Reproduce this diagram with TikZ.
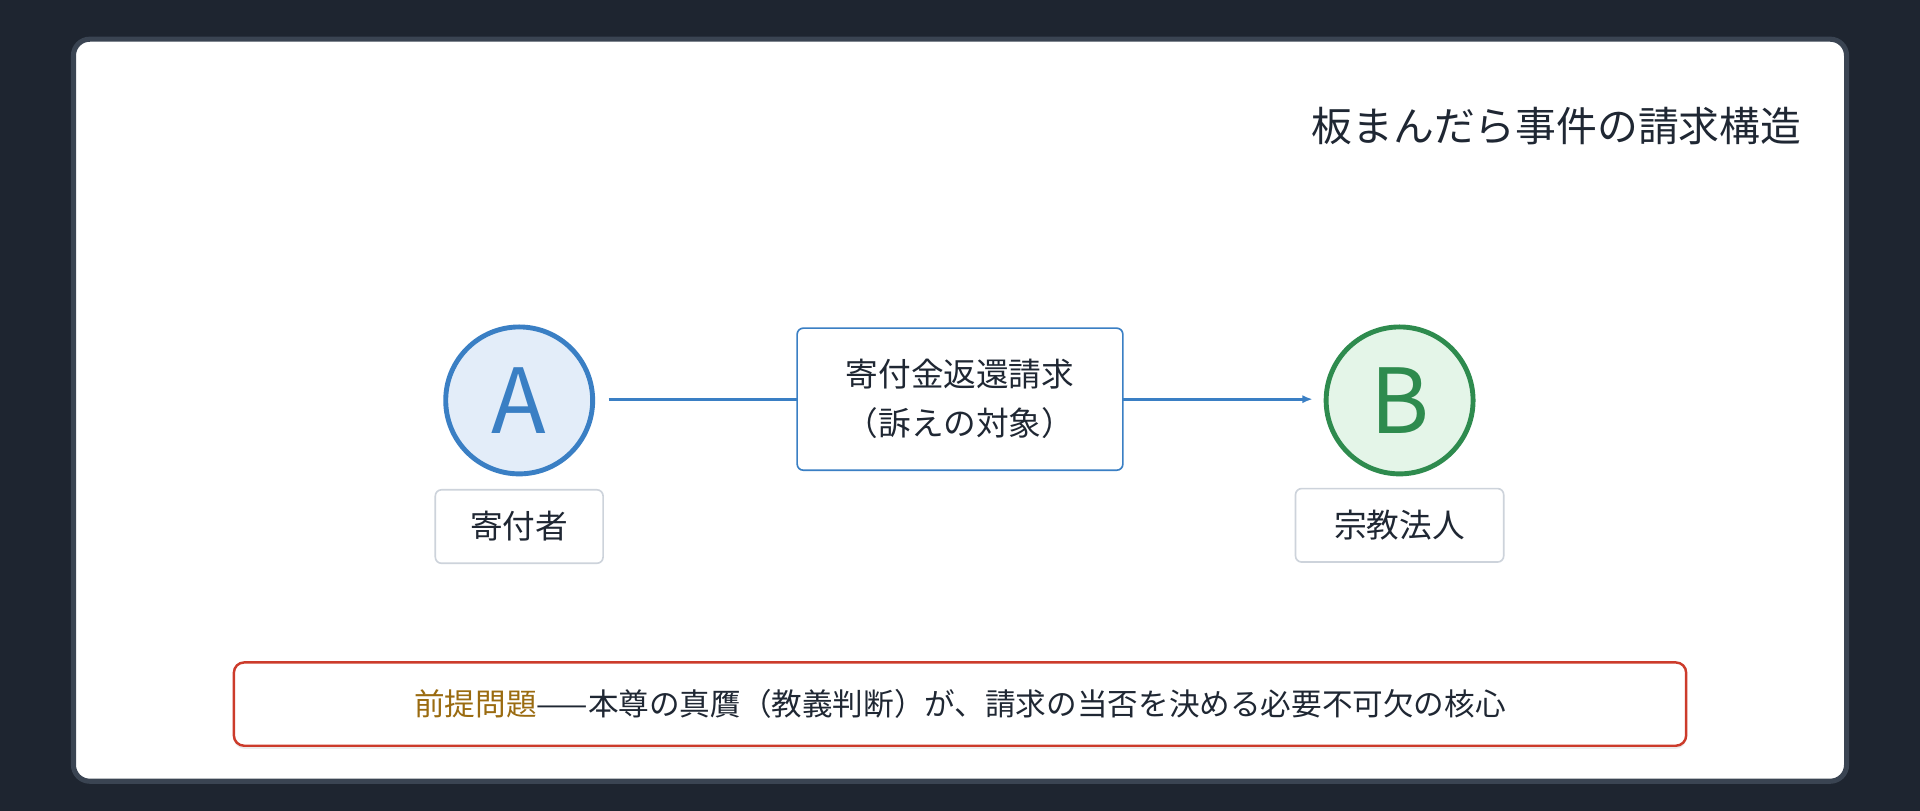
\documentclass[tikz,border=0pt]{standalone}
\usepackage{fontspec}
\setmainfont{Noto Sans CJK JP}
\usetikzlibrary{arrows.meta,shadows}
\definecolor{bgd}{HTML}{1E2530}
\definecolor{cardb}{HTML}{3A4452}
\definecolor{txt}{HTML}{1F2733}
\definecolor{blu}{HTML}{3A7FC4}
\definecolor{blufill}{HTML}{E3EDF9}
\definecolor{grn}{HTML}{2E8B4E}
\definecolor{grnfill}{HTML}{E4F5E8}
\definecolor{redb}{HTML}{CC3B2B}
\definecolor{gold}{HTML}{9A6B10}
\definecolor{lgray}{HTML}{CDD3DB}
\begin{document}
\begin{tikzpicture}[x=0.6pt,y=-0.6pt,
  circ/.style={circle,minimum size=120*0.6pt,line width=2.4pt,font=\fontsize{44}{44}\selectfont},
  lbl/.style={draw=lgray,line width=0.8pt,rounded corners=3pt,fill=white,font=\fontsize{16}{20}\selectfont,text=txt,inner sep=0pt},
]
\fill[bgd] (0,0) rectangle (1568,662);
\useasboundingbox (0,0) rectangle (1568,662);
\draw[cardb,line width=2.5pt,fill=white,rounded corners=8pt] (60,32) rectangle (1508,638);
\node[anchor=east,font=\fontsize{20}{24}\selectfont,text=txt] (title) at (1477,103) {板まんだら事件の請求構造};
\node[circ,draw=blu,fill=blufill,text=blu] (A) at (424,327) {A};
\node[circ,draw=grn,fill=grnfill,text=grn] (B) at (1143,327) {B};
\node[lbl,minimum width=137*0.6pt,minimum height=60*0.6pt] (la) at (424,430) {寄付者};
\node[lbl,minimum width=170*0.6pt,minimum height=60*0.6pt] (lb) at (1143,429) {宗教法人};
\coordinate (s) at (497,326);
\coordinate (e) at (1072,326);
\draw[blu,line width=1.3pt,-{Latex[length=5pt,width=4pt]}] (s) -- (e);
\node[lbl,draw=blu,minimum width=266*0.6pt,minimum height=116*0.6pt,align=center,font=\fontsize{16}{24}\selectfont] (mid) at (784,326) {寄付金返還請求\\（訴えの対象）};
\node[draw=redb,line width=1.2pt,rounded corners=5pt,fill=white,minimum width=1186*0.6pt,minimum height=68*0.6pt,font=\fontsize{15}{18}\selectfont,text=txt,drop shadow={opacity=0.15,shadow xshift=0pt,shadow yshift=-1.5pt}] (bot) at (784,575) {\textcolor{gold}{前提問題}——本尊の真贋（教義判断）が、請求の当否を決める必要不可欠の核心};
\end{tikzpicture}
\end{document}
